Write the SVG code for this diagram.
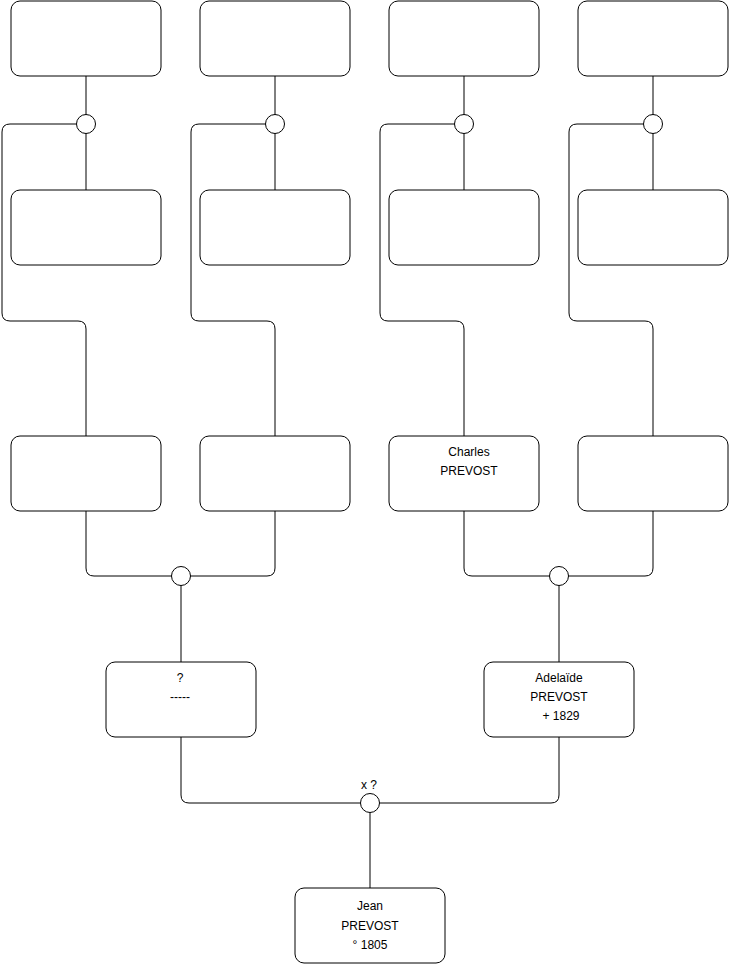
<svg xmlns="http://www.w3.org/2000/svg" width="740" height="975" viewBox="0 0 740 975">
<style>
.box{fill:#fff;stroke:#000;stroke-width:1}
.c{fill:#fff;stroke:#000;stroke-width:1}
.ln{fill:none;stroke:#000;stroke-width:1}
text{font-family:"Liberation Sans",Arial,sans-serif;font-size:12px;fill:#000;text-anchor:middle}
</style>
<rect width="740" height="975" fill="#fff"/>
<g id="connectors">
<path class="ln" d="M86 76V190"/>
<path class="ln" d="M275 76V190"/>
<path class="ln" d="M464 76V190"/>
<path class="ln" d="M653 76V190"/>
<path class="ln" d="M77 124H10Q2 124 2 132V313Q2 321 10 321H78Q86 321 86 329V436"/>
<path class="ln" d="M266 124H199Q191 124 191 132V313Q191 321 199 321H267Q275 321 275 329V436"/>
<path class="ln" d="M455 124H388Q380 124 380 132V313Q380 321 388 321H456Q464 321 464 329V436"/>
<path class="ln" d="M644 124H577Q569 124 569 132V313Q569 321 577 321H645Q653 321 653 329V436"/>
<path class="ln" d="M86 511V568Q86 576 94 576H267Q275 576 275 568V511"/>
<path class="ln" d="M181 576V662"/>
<path class="ln" d="M464 511V568Q464 576 472 576H645Q653 576 653 568V511"/>
<path class="ln" d="M559 576V662"/>
<path class="ln" d="M181 737V795Q181 803 189 803H551Q559 803 559 795V737"/>
<path class="ln" d="M370 803V888"/>
</g>
<g id="n1"><rect class="box" x="11" y="1" width="150" height="75" rx="9"/></g>
<g id="n2"><rect class="box" x="200" y="1" width="150" height="75" rx="9"/></g>
<g id="n3"><rect class="box" x="389" y="1" width="150" height="75" rx="9"/></g>
<g id="n4"><rect class="box" x="578" y="1" width="150" height="75" rx="9"/></g>
<g id="j1"><circle class="c" cx="86" cy="124" r="9.5"/></g>
<g id="j2"><circle class="c" cx="275" cy="124" r="9.5"/></g>
<g id="j3"><circle class="c" cx="464" cy="124" r="9.5"/></g>
<g id="j4"><circle class="c" cx="653" cy="124" r="9.5"/></g>
<g id="n5"><rect class="box" x="11" y="190" width="150" height="75" rx="9"/></g>
<g id="n6"><rect class="box" x="200" y="190" width="150" height="75" rx="9"/></g>
<g id="n7"><rect class="box" x="389" y="190" width="150" height="75" rx="9"/></g>
<g id="n8"><rect class="box" x="578" y="190" width="150" height="75" rx="9"/></g>
<g id="n9"><rect class="box" x="11" y="436" width="150" height="75" rx="9"/></g>
<g id="n10"><rect class="box" x="200" y="436" width="150" height="75" rx="9"/></g>
<g id="charles"><rect class="box" x="389" y="436" width="150" height="75" rx="9"/><text x="469" y="455.5">Charles</text><text x="469" y="474.5">PREVOST</text></g>
<g id="n12"><rect class="box" x="578" y="436" width="150" height="75" rx="9"/></g>
<g id="j5"><circle class="c" cx="181" cy="576" r="9.5"/></g>
<g id="j6"><circle class="c" cx="559" cy="576" r="9.5"/></g>
<g id="unknown"><rect class="box" x="106" y="662" width="150" height="75" rx="9"/><text x="180" y="682">?</text><text x="180" y="701">-----</text></g>
<g id="adelaide"><rect class="box" x="484" y="662" width="150" height="75" rx="9"/><text x="559" y="682">Adelaïde</text><text x="559" y="701">PREVOST</text><text x="561" y="720">+ 1829</text></g>
<g id="j7"><circle class="c" cx="370" cy="803" r="9.5"/><text x="369" y="789">x ?</text></g>
<g id="jean"><rect class="box" x="295" y="888" width="150" height="75" rx="9"/><text x="370" y="910">Jean</text><text x="370" y="929.5">PREVOST</text><text x="370" y="948.5">° 1805</text></g>
</svg>
